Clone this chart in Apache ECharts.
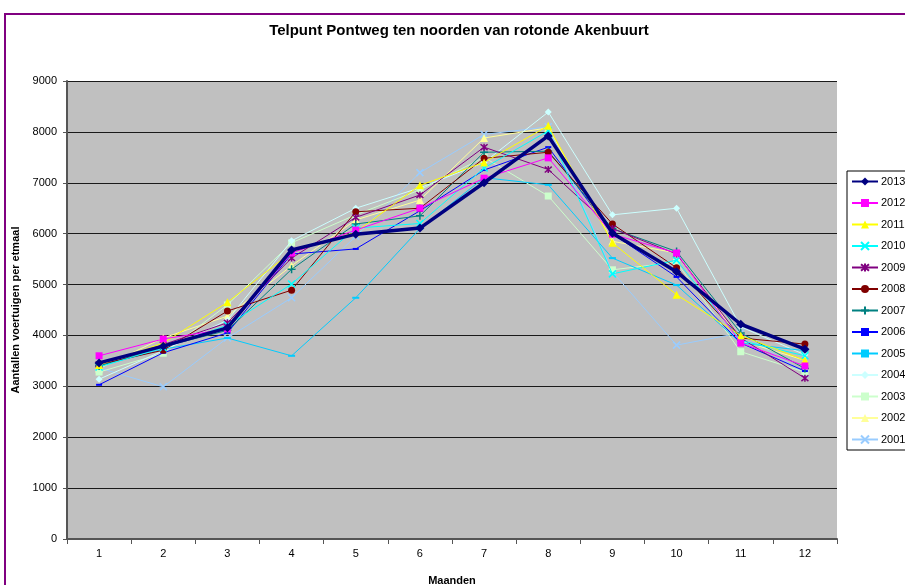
<!DOCTYPE html>
<html>
<head>
<meta charset="utf-8">
<script src="https://cdn.jsdelivr.net/npm/echarts@6/dist/echarts.min.js"></script>
<style>
html,body{margin:0;padding:0;background:#fff;}
#c{width:905px;height:585px;}
</style>
</head>
<body>
<div id="c"></div>
<script>
const months = ['1','2','3','4','5','6','7','8','9','10','11','12'];
const yTicks = [0,1000,2000,3000,4000,5000,6000,7000,8000,9000];
const years = ['2013','2012','2011','2010','2009','2008','2007','2006','2005','2004','2003','2002','2001'];

const s2013 = [3460, 3790, 4150, 5680, 5990, 6110, 7000, 7920, 6010, 5250, 4220, 3730];
const s2012 = [3600, 3930, 4130, 5620, 6070, 6500, 7090, 7490, 5990, 5620, 3850, 3400];
const s2011 = [3420, 3850, 4650, 5640, 6030, 6950, 7400, 8120, 5820, 4800, 4000, 3510];
const s2010 = [3380, 3760, 4200, 5010, 6110, 6200, 7290, 8020, 5210, 5480, 3900, 3600];
const s2009 = [3430, 3820, 4250, 5520, 6320, 6760, 7700, 7260, 6100, 5600, 3950, 3160];
const s2008 = [3430, 3710, 4480, 4890, 6430, 6500, 7480, 7600, 6190, 5330, 3950, 3830];
const s2007 = [3400, 3780, 4100, 5300, 6190, 6350, 7600, 7620, 6100, 5650, 4050, 3350];
const s2006 = [3030, 3660, 4050, 5600, 5700, 6450, 7250, 7700, 6000, 5150, 3850, 3300];
const s2005 = [3400, 3730, 3950, 3600, 4740, 6100, 7100, 6960, 5520, 4990, 3850, 3700];
const s2004 = [3140, 3700, 4300, 5860, 6500, 6900, 7400, 8390, 6370, 6500, 4170, 3620];
const s2003 = [3280, 3650, 4600, 5820, 6370, 6860, 7500, 6740, 5290, 5440, 3680, 3280];
const s2002 = [3350, 3950, 4380, 5370, 6270, 6660, 7880, 8080, 5850, 5620, 3900, 3510];
const s2001 = [3360, 2990, 3950, 4740, 5950, 7200, 7950, 8100, 5250, 3810, 4050, 3250];

const dataByYear = {
  '2013': s2013, '2012': s2012, '2011': s2011, '2010': s2010, '2009': s2009,
  '2008': s2008, '2007': s2007, '2006': s2006, '2005': s2005, '2004': s2004,
  '2003': s2003, '2002': s2002, '2001': s2001
};

const xPath = 'path://M0,0L10,10M10,0L0,10';
const starPath = 'path://M0,0L10,10M10,0L0,10M5,-1L5,11';
const plusPath = 'path://M5,0L5,10M0,5L10,5';

const styles = {
  '2013': {color:'#000080', symbol:'diamond', size:9, width:3.5},
  '2012': {color:'#FF00FF', symbol:'rect', size:7, width:1},
  '2011': {color:'#FFFF00', symbol:'triangle', size:8, width:1},
  '2010': {color:'#00FFFF', symbol:xPath, size:7, width:1, stroke:true},
  '2009': {color:'#800080', symbol:starPath, size:7, width:1, stroke:true},
  '2008': {color:'#800000', symbol:'circle', size:7, width:1},
  '2007': {color:'#008080', symbol:plusPath, size:8, width:1, stroke:true},
  '2006': {color:'#0000FF', symbol:'rect', size:[6,2], width:1},
  '2005': {color:'#00CCFF', symbol:'rect', size:[7,2], width:1},
  '2004': {color:'#CCFFFF', symbol:'diamond', size:7, width:1},
  '2003': {color:'#CCFFCC', symbol:'rect', size:7, width:1},
  '2002': {color:'#FFFF99', symbol:'triangle', size:8, width:1},
  '2001': {color:'#99CCFF', symbol:xPath, size:7, width:1, stroke:true}
};

const drawOrder = years.slice().reverse();
const series = drawOrder.map((y, i) => {
  const st = styles[y];
  return {
    name: y,
    type: 'line',
    data: dataByYear[y],
    symbol: st.symbol,
    symbolSize: st.size,
    showAllSymbol: true,
    z: 2 + i,
    lineStyle: {color: st.color, width: st.width},
    itemStyle: {color: st.color, borderColor: st.color, borderWidth: st.stroke ? 1.5 : 0},
    emphasis: {disabled: true},
    animation: false
  };
});

const chart = echarts.init(document.getElementById('c'), null, {renderer:'canvas'});
chart.setOption({
  animation: false,
  backgroundColor: '#fff',
  textStyle: {fontFamily: 'Liberation Sans, Arial, sans-serif'},
  title: {
    text: 'Telpunt Pontweg ten noorden van rotonde Akenbuurt',
    left: 454, top: 18, textAlign: 'center',
    textStyle: {fontSize: 15, fontWeight: 'bold', color: '#000', fontFamily: 'Liberation Sans, Arial, sans-serif'}
  },
  grid: {
    left: 67, top: 81, width: 770, height: 458,
    containLabel: false,
    outerBoundsMode: 'none',
    show: true, backgroundColor: '#C0C0C0', borderWidth: 0
  },
  legend: {
    data: years,
    orient: 'vertical',
    left: 847, top: 171,
    padding: [5, 5, 5, 4],
    itemWidth: 26, itemHeight: 10,
    itemGap: 10.5,
    borderColor: '#000', borderWidth: 1,
    backgroundColor: '#fff',
    textStyle: {fontSize: 11, color: '#000', padding: [0,0,0,-2]}
  },
  xAxis: {
    type: 'category',
    data: months,
    boundaryGap: true,
    name: 'Maanden',
    nameLocation: 'middle',
    nameGap: 36,
    nameTextStyle: {fontSize: 11, fontWeight: 'bold', color: '#000'},
    axisLine: {lineStyle: {color: '#555', width: 2}},
    axisTick: {show: true, alignWithLabel: false, length: 5, lineStyle: {color: '#555'}},
    axisLabel: {fontSize: 11, color: '#000', margin: 9},
    splitLine: {show: false}
  },
  yAxis: {
    type: 'value',
    min: yTicks[0], max: yTicks[yTicks.length-1], interval: 1000,
    name: 'Aantallen voertuigen per etmaal',
    nameLocation: 'middle',
    nameRotate: 90,
    nameGap: 39,
    nameTextStyle: {fontSize: 11, fontWeight: 'bold', color: '#000'},
    axisLine: {show: true, lineStyle: {color: '#555', width: 2}},
    axisTick: {show: true, length: 4, lineStyle: {color: '#555'}},
    axisLabel: {fontSize: 11, color: '#000', margin: 10, formatter: v => String(v)},
    splitLine: {show: true, lineStyle: {color: '#1a1a1a', width: 1.2}}
  },
  graphic: [{
    type: 'rect',
    shape: {x: 5, y: 14, width: 1000, height: 1000},
    style: {fill: null, stroke: '#800080', lineWidth: 2},
    silent: true, z: 100
  }],
  series: series
});
</script>
</body>
</html>
